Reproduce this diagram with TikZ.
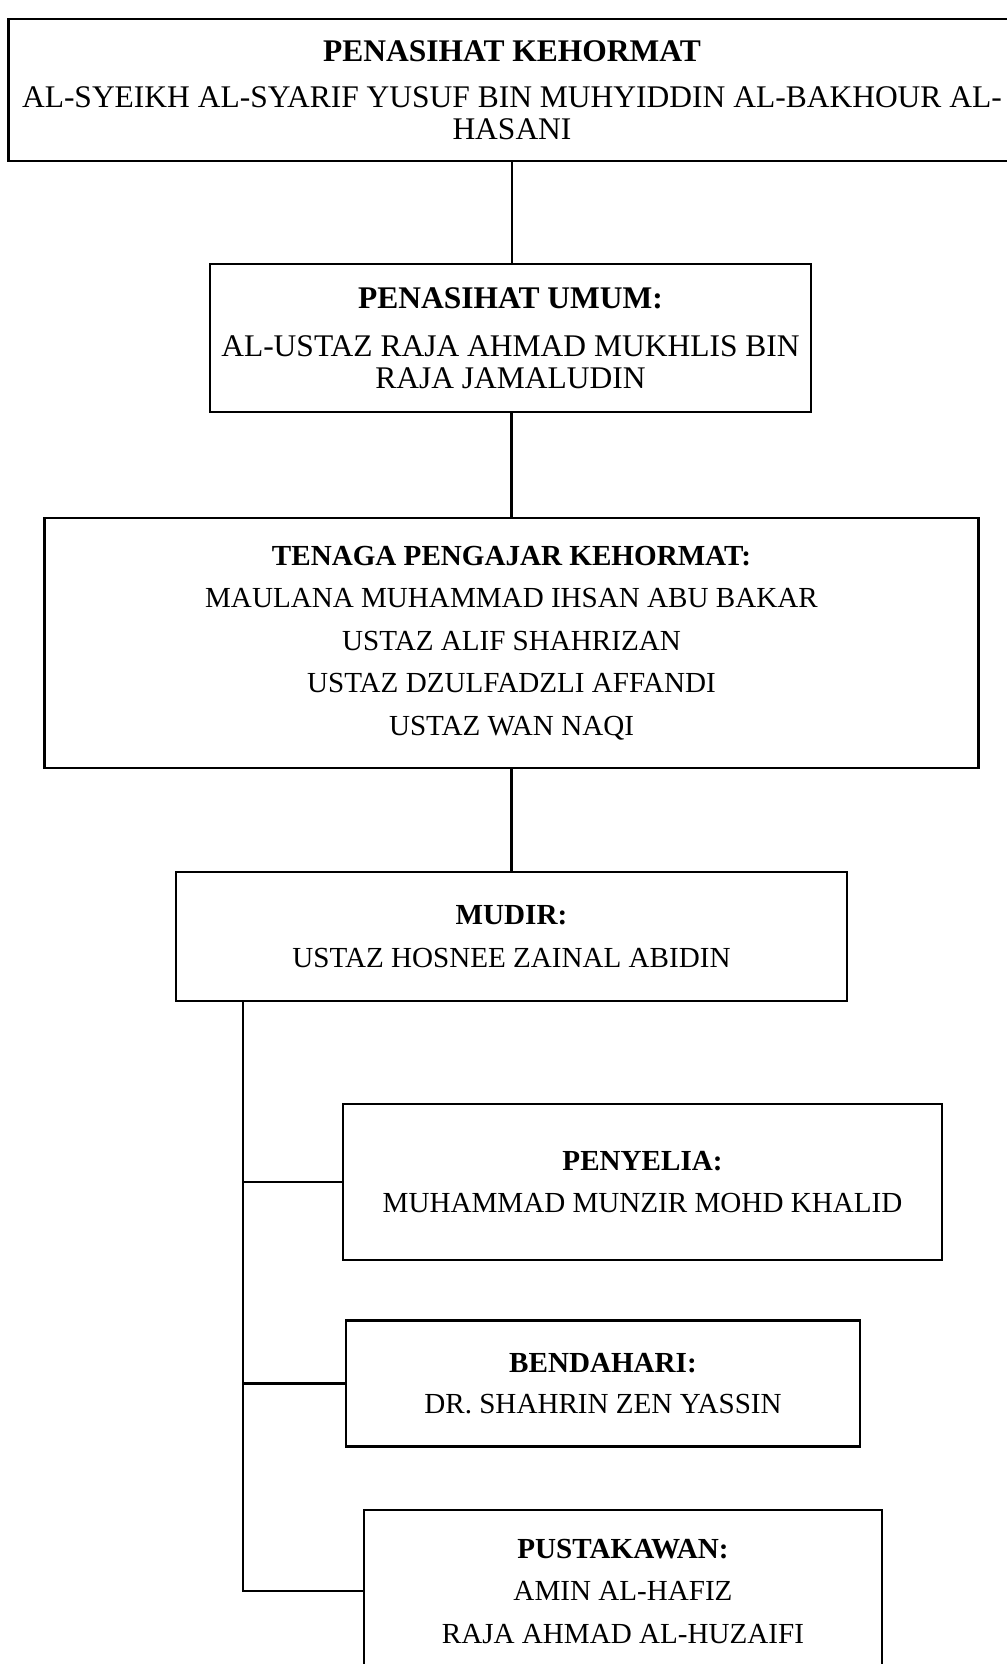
\documentclass[tikz,border=0pt]{standalone}
\usepackage{fontspec}
\setmainfont{Liberation Serif}
\begin{document}
\begin{tikzpicture}[x=1pt,y=-1pt,
	kotak/.style={draw,line width=2.6pt,align=center,inner sep=0pt},
	besar/.style={font=\fontsize{31.5}{32}\selectfont},
	kecil/.style={font=\fontsize{29.1}{42.5}\selectfont},
	garis/.style={line width=2.4pt}]
\useasboundingbox (0,0) rectangle (1006,1664);
	\node[kotak,besar,minimum width=1007pt,minimum height=142pt] (pk) at (512,90)
		{\textbf{PENASIHAT KEHORMAT}\\[14pt]AL-SYEIKH AL-SYARIF YUSUF BIN MUHYIDDIN AL-BAKHOUR AL-\\HASANI};
	\node[kotak,besar,minimum width=601pt,minimum height=148pt] (pu) at (510.5,338)
		{\textbf{PENASIHAT UMUM:}\\[16pt]AL-USTAZ RAJA AHMAD MUKHLIS BIN\\RAJA JAMALUDIN};
	\node[kotak,kecil,minimum width=934pt,minimum height=250pt] (tp) at (511.5,643)
		{\textbf{TENAGA PENGAJAR KEHORMAT:}\\MAULANA MUHAMMAD IHSAN ABU BAKAR\\USTAZ ALIF SHAHRIZAN\\USTAZ DZULFADZLI AFFANDI\\USTAZ WAN NAQI};
	\node[kotak,kecil,minimum width=671pt,minimum height=129pt] (md) at (511.5,936.5)
		{\textbf{MUDIR:}\\USTAZ HOSNEE ZAINAL ABIDIN};
	\node[kotak,kecil,minimum width=599pt,minimum height=156pt] (py) at (642.5,1182)
		{\textbf{PENYELIA:}\\MUHAMMAD MUNZIR MOHD KHALID};
	\node[kotak,kecil,minimum width=514pt,minimum height=126pt] (bd) at (603,1383.5)
		{\textbf{BENDAHARI:}\\[-2pt]DR. SHAHRIN ZEN YASSIN};
	\node[kotak,kecil,minimum width=518pt,minimum height=162pt] (pp) at (623,1591)
		{\textbf{PUSTAKAWAN:}\\AMIN AL-HAFIZ\\RAJA AHMAD AL-HUZAIFI};

	\draw[garis] (pk.south) -- (pk.south |- pu.north);
	\draw[garis] (tp.north) -- (tp.north |- pu.south);
	\draw[garis] (md.north) -- (md.north |- tp.south);

	\coordinate (cabang) at ([xshift=68pt]md.south west);
	\draw[garis] (cabang) |- (pp.west);
	\foreach \b in {py,bd}
		\draw[garis] (cabang |- \b.west) -- (\b.west);
\end{tikzpicture}
\end{document}
